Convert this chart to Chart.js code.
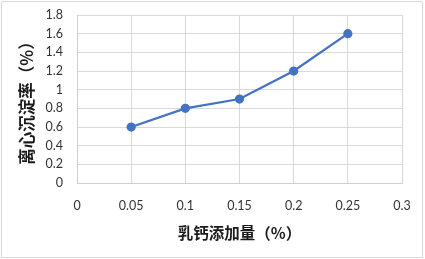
<!DOCTYPE html>
<html><head><meta charset="utf-8">
<script src="https://cdn.jsdelivr.net/npm/chart.js@4"></script>
<style>
html,body{margin:0;padding:0;background:#fff;}
#wrap{position:absolute;left:0;top:0;width:425px;height:259px;}
#frame{position:absolute;left:1px;top:1px;width:422px;height:257px;box-sizing:border-box;border:1px solid #d9d9d9;pointer-events:none;}
canvas{position:absolute;left:0;top:0;}
</style></head>
<body>
<div id="wrap"><canvas id="c" width="425" height="259"></canvas><div id="frame"></div></div>
<script>
const xValues = [0.05, 0.1, 0.15, 0.2, 0.25];
const yValues = [0.6, 0.8, 0.9, 1.2, 1.6];
const xTitle = '乳钙添加量（%）';
const yTitle = '离心沉淀率（%）';

const tickFont = {family: 'Lato, "Liberation Sans", sans-serif', size: 12.5};
const titleFontFamily = '"Noto Sans CJK SC", sans-serif';

new Chart(document.getElementById('c'), {
  type: 'scatter',
  data: {
    datasets: [{
      data: xValues.map((x, i) => ({x: x, y: yValues[i]})),
      showLine: true,
      borderColor: '#4472C4',
      backgroundColor: '#4472C4',
      borderWidth: 2.25,
      pointRadius: 3.5,
      pointHoverRadius: 3.5,
      tension: 0
    }]
  },
  options: {
    responsive: false,
    animation: false,
    events: [],
    layout: {padding: {left: 0, right: 23, top: 15, bottom: 0}},
    plugins: {legend: {display: false}, tooltip: {enabled: false}},
    scales: {
      x: {
        type: 'linear', min: 0, max: 0.3,
        ticks: {stepSize: 0.05, padding: 15, color: '#333', font: tickFont, autoSkip: false, maxRotation: 0,
          callback: v => String(parseFloat(v.toFixed(2)))},
        grid: {color: '#d9d9d9', drawTicks: false, lineWidth: 1},
        border: {color: '#d0d0d0'},
        title: {display: true, text: xTitle, color: '#1a1a1a',
          font: {family: titleFontFamily, size: 15.5, weight: 'bold'},
          padding: {top: 0, bottom: 17}},
        afterFit: s => { s.height = 76; s.paddingLeft = 0; s.paddingRight = 0; }
      },
      y: {
        type: 'linear', min: 0, max: 1.8,
        ticks: {stepSize: 0.2, padding: 14, color: '#333', font: tickFont, autoSkip: false,
          callback: v => String(parseFloat(v.toFixed(1)))},
        grid: {color: '#d9d9d9', drawTicks: false, lineWidth: 1},
        border: {color: '#d0d0d0'},
        title: {display: true, text: yTitle, color: '#1a1a1a',
          font: {family: titleFontFamily, size: 16.5, weight: 'bold'},
          padding: {top: 17, bottom: 0}},
        afterFit: s => { s.width = 77; s.paddingTop = 0; s.paddingBottom = 0; }
      }
    }
  }
});
</script>
</body></html>
